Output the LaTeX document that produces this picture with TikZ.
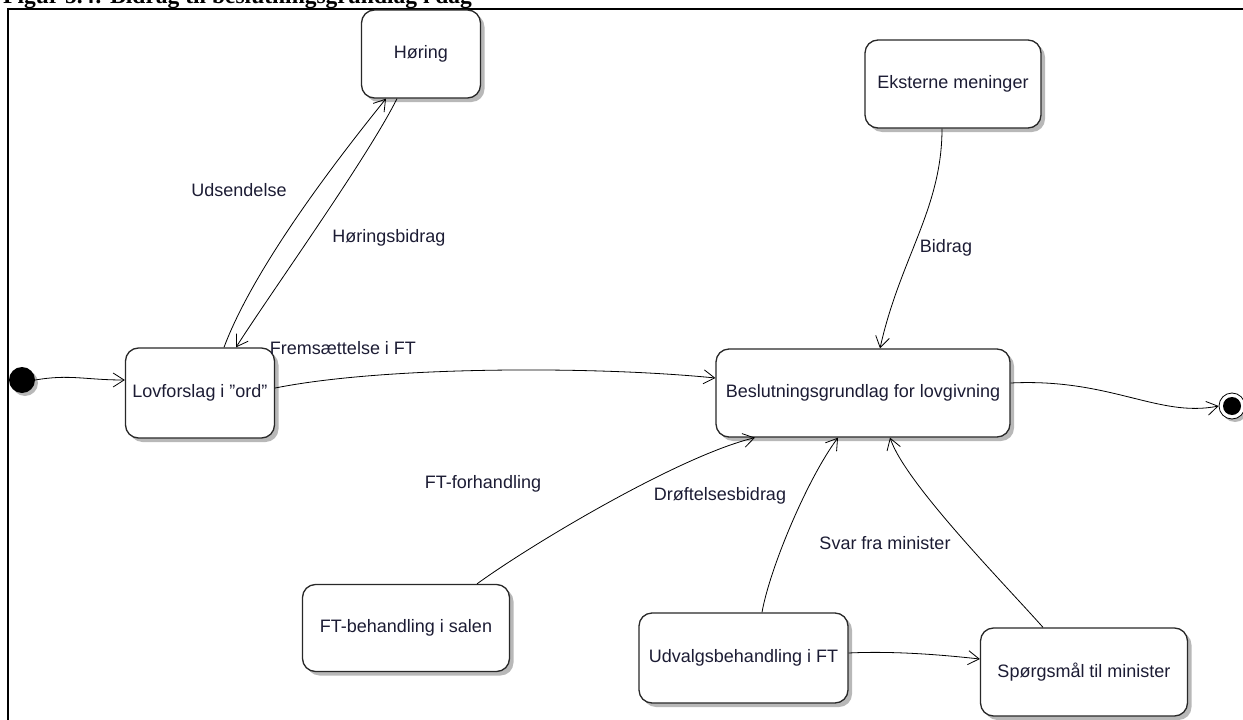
\documentclass[tikz,border=0pt]{standalone}
\usepackage{fontspec}
\setmainfont{Liberation Sans}
\newfontfamily\titlefont{Liberation Serif}
\usetikzlibrary{arrows.meta,shadows}
\definecolor{txt}{RGB}{28,28,52}
\definecolor{boxline}{RGB}{40,40,40}
\begin{document}
\begin{tikzpicture}[x=1pt,y=1pt,
  font=\fontsize{18}{21}\selectfont,
  state/.style={draw=boxline, line width=1.3pt, rounded corners=13pt, fill=white,
    text=txt, inner sep=0pt,
    drop shadow={shadow xshift=4pt, shadow yshift=-4pt, fill=black!35, opacity=0.8}},
  trans/.style={draw=black, line width=0.8pt,
    -{Straight Barb[length=11pt,width=14pt,line width=0.8pt]}},
  lbl/.style={text=txt, inner sep=0pt}]
\useasboundingbox (0,0) rectangle (1243,-720);
\clip (0,0) rectangle (1243,-720);

% caption line, cut by the top edge
\node[anchor=base west, inner sep=0pt, font=\titlefont\bfseries\fontsize{23.5}{26}\selectfont]
  (title) at (3,-4) {Figur 5.4: Bidrag til beslutningsgrundlag i dag};

% frame
\draw[line width=2pt] (1243,-9) -- (7.5,-9) -- (7.5,-720);

% states
\node[state, minimum width=149pt, minimum height=90pt] (lov) at (200,-393) {Lovforslag i \char"22 ord\char"22};
\node[state, minimum width=119pt, minimum height=88pt] (hor) at (421,-54) {Høring};
\node[state, minimum width=176pt, minimum height=88pt] (eks) at (953,-84) {Eksterne meninger};
\node[state, minimum width=294pt, minimum height=88pt] (bes) at (863,-393) {Beslutningsgrundlag for lovgivning};
\node[state, minimum width=207pt, minimum height=87pt] (ftb) at (406,-628) {FT-behandling i salen};
\node[state, minimum width=209pt, minimum height=90pt] (udv) at (743.5,-658) {Udvalgsbehandling i FT};
\node[state, minimum width=207pt, minimum height=88pt] (spm) at (1084,-672) {Spørgsmål til minister};

% pseudo states
\node[circle, fill=black, minimum size=26pt, inner sep=0pt,
  drop shadow={shadow xshift=3pt, shadow yshift=-3pt, fill=black!35, opacity=0.8}] (init) at (22,-380) {};
\node[circle, draw=black, line width=0.8pt, fill=white, minimum size=26pt, inner sep=0pt,
  drop shadow={shadow xshift=3pt, shadow yshift=-3pt, fill=black!35, opacity=0.8}] (fin) at (1232,-406) {};
\fill (fin.center) circle (9pt);

% transitions
\draw[trans] (init.east) .. controls +(35,6) and +(-40,0) .. ([yshift=13pt]lov.west);
\draw[trans] ([xshift=24pt]lov.north) .. controls +(30,80) and +(-50,-62) .. ([xshift=-35pt]hor.south);
\draw[trans] ([xshift=-24pt]hor.south) .. controls +(-30,-60) and +(35,55) .. ([xshift=36pt]lov.north);
\draw[trans] ([yshift=5pt]lov.east) .. controls +(110,22) and +(-120,12) .. ([yshift=15pt]bes.west);
\draw[trans] ([xshift=-11pt]eks.south) .. controls +(0,-80) and +(20,90) .. ([xshift=17pt]bes.north);
\draw[trans] ([xshift=71pt]ftb.north) .. controls +(55,40) and +(-75,-18) .. ([xshift=-108pt]bes.south);
\draw[trans] ([xshift=18.5pt]udv.north) .. controls +(8,45) and +(-30,-40) .. ([xshift=-25pt]bes.south);
\draw[trans] ([xshift=-41pt]spm.north) .. controls +(-40,45) and +(15,-45) .. ([xshift=27pt]bes.south);
\draw[trans] ([yshift=5pt]udv.east) .. controls +(40,2) and +(-45,5) .. ([yshift=13pt]spm.west);
\draw[trans] ([yshift=10pt]bes.east) .. controls +(100,5) and +(-60,-12) .. (fin.west);

% transition labels
\node[lbl] (l1) at (239,-190) {Udsendelse};
\node[lbl] (l2) at (389,-238) {Høringsbidrag};
\node[lbl] (l3) at (343,-348) {Fremsættelse i FT};
\node[lbl] (l4) at (946,-248) {Bidrag};
\node[lbl] (l5) at (483,-484) {FT-forhandling};
\node[lbl] (l6) at (720,-496) {Drøftelsesbidrag};
\node[lbl] (l7) at (885,-543) {Svar fra minister};
\end{tikzpicture}
\end{document}
